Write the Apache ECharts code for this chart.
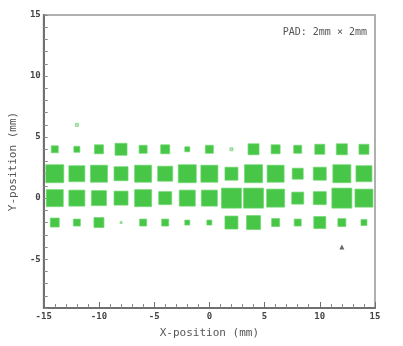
<!DOCTYPE html>
<html>
<head>
<meta charset="utf-8">
<script src="https://cdn.jsdelivr.net/npm/echarts@6/dist/echarts.min.js"></script>
<style>
  html, body { margin: 0; padding: 0; background: #fff; }
  #chart { width: 403px; height: 346px; }
</style>
</head>
<body>
<div id="chart"></div>
<script>
// pad columns (mm) and pad rows (mm)
var xPads = [-14, -12, -10, -8, -6, -4, -2, 0, 2, 4, 6, 8, 10, 12, 14];
// signal per pad
var row4  = [7, 6, 9, 12, 8, 9, 5, 8, 3, 11, 9, 8, 10, 11, 10];
var row2  = [18, 16, 17, 14, 17, 15, 18, 17, 13, 18, 17, 11, 13, 18, 16];
var row0  = [17, 16, 15, 14, 17, 13, 16, 16, 20, 20, 18, 12, 13, 20, 18];
var rowM2 = [9, 7, 10, 2, 7, 7, 5, 5, 13, 14, 8, 7, 12, 8, 6];
var rowY = [4, 2, 0, -2];
var strayPoints = [[-12, 6, 3]];
var marker = [[12, -4]];

var xTicks = [-15, -10, -5, 0, 5, 10, 15];
var yTicks = [-5, 0, 5, 10, 15];

var rows = [row4, row2, row0, rowM2];
var padData = [];
rows.forEach(function (r, j) {
    r.forEach(function (v, i) {
        padData.push([xPads[i], rowY[j], v]);
    });
});
strayPoints.forEach(function (p) { padData.push(p); });

var font = 'DejaVu Sans Mono';
var labelStyle = {color: '#444', fontFamily: font, fontSize: 9, fontWeight: 'bold'};

var myChart = echarts.init(document.getElementById('chart'));
myChart.setOption({
    animation: false,
    grid: {
        left: 36, right: 28, top: 15, bottom: 38,
        show: true,
        borderColor: '#b0b0b0',
        borderWidth: 2,
        backgroundColor: '#fff'
    },
    xAxis: {
        type: 'value',
        min: -15, max: 15, interval: 5,
        name: 'X-position (mm)',
        nameLocation: 'middle',
        nameGap: 20,
        nameTextStyle: {color: '#555', fontFamily: font, fontSize: 11},
        axisLine: {onZero: false, lineStyle: {color: '#707070', width: 2}},
        axisTick: {inside: true, length: 6, lineStyle: {color: '#707070'}},
        minorTick: {show: true, splitNumber: 5, length: 4, lineStyle: {color: '#888'}},
        splitLine: {show: false},
        axisLabel: Object.assign({
            margin: 4,
            showMinLabel: true, showMaxLabel: true,
            formatter: function (v) { return xTicks.indexOf(v) >= 0 ? String(v) : ''; }
        }, labelStyle)
    },
    yAxis: {
        type: 'value',
        min: -9, max: 15, interval: 1,
        name: 'Y-position (mm)',
        nameLocation: 'middle',
        nameGap: 20,
        nameRotate: 90,
        nameTextStyle: {color: '#555', fontFamily: font, fontSize: 11},
        axisLine: {onZero: false, lineStyle: {color: '#707070', width: 2}},
        axisTick: {inside: true, length: 4, lineStyle: {color: '#888'}},
        splitLine: {show: false},
        axisLabel: Object.assign({
            margin: 3,
            formatter: function (v) { return yTicks.indexOf(v) >= 0 ? String(v) : ''; }
        }, labelStyle)
    },
    graphic: [{
        type: 'text',
        right: 36, top: 27,
        style: {text: 'PAD: 2mm × 2mm', fill: '#555', font: '10px ' + font}
    }],
    series: [
        {
            type: 'scatter',
            symbol: 'rect',
            data: padData,
            symbolSize: function (d) { return d[2]; },
            itemStyle: {
                color: function (p) {
                    return p.data[2] < 4 ? 'rgba(110,190,110,0.45)' : '#47c647';
                },
                borderColor: 'rgba(110,215,110,0.7)',
                borderWidth: 1,
                opacity: 1
            }
        },
        {
            type: 'scatter',
            symbol: 'triangle',
            symbolSize: 5,
            data: marker,
            itemStyle: {color: '#666', opacity: 1}
        }
    ]
});
</script>
</body>
</html>
